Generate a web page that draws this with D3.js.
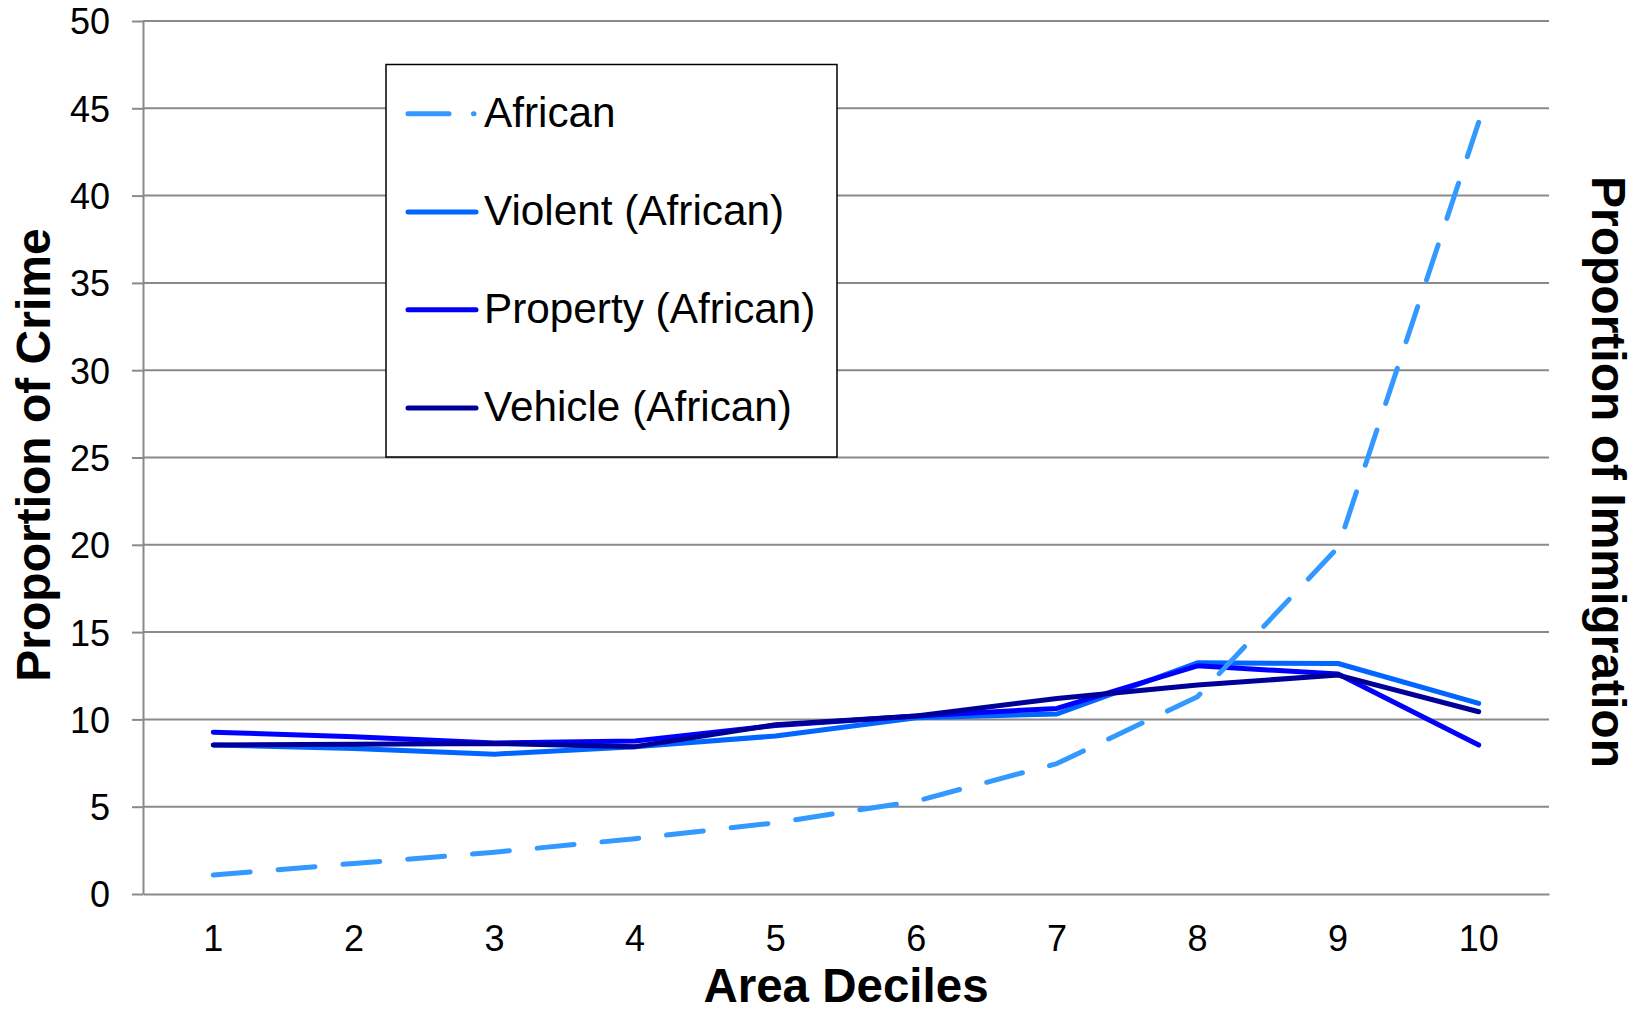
<!DOCTYPE html>
<html>
<head>
<meta charset="utf-8">
<script src="https://cdn.jsdelivr.net/npm/d3@7"></script>
<style>
  html, body { margin: 0; padding: 0; background: #ffffff; }
  svg { display: block; font-family: "Liberation Sans", Arial, sans-serif; }
</style>
</head>
<body>
<svg id="chart" width="1643" height="1013"></svg>
<script>
// ---- data ----
const categories = ["1", "2", "3", "4", "5", "6", "7", "8", "9", "10"];
const yTicks = [0, 5, 10, 15, 20, 25, 30, 35, 40, 45, 50];
const seriesNames = ["African", "Violent (African)", "Property (African)", "Vehicle (African)"];
const african  = [1.09, 1.75, 2.39, 3.17, 4.08, 5.32, 7.47, 11.3, 19.85, 44.2];
const violent  = [8.54, 8.33, 8.01, 8.44, 9.05, 10.1, 10.31, 13.24, 13.2, 10.92];
const property = [9.27, 9.0, 8.65, 8.76, 9.65, 10.2, 10.63, 13.07, 12.6, 8.53];
const vehicle  = [8.54, 8.58, 8.62, 8.44, 9.7, 10.2, 11.2, 11.97, 12.54, 10.44];
const colors = ["#3399ff", "#0066ff", "#0000ff", "#000099"];

(function () {
  // ---- layout ----
  const svg = d3.select("#chart");
  const plotLeft = 143, plotRight = 1549, plotTop = 21, plotBottom = 894;

  const x = d3.scaleBand().domain(categories).range([plotLeft, plotRight]).padding(0);
  const cx = c => x(c) + x.bandwidth() / 2;
  const y = d3.scaleLinear().domain([0, 50]).range([plotBottom, plotTop]);

  const grid = "#8a8a8a";

  // gridlines
  svg.append("g").selectAll("line").data(yTicks.filter(t => t > 0)).join("line")
    .attr("x1", plotLeft).attr("x2", plotRight)
    .attr("y1", d => y(d)).attr("y2", d => y(d))
    .attr("stroke", grid).attr("stroke-width", 2);

  // y axis
  const yAxis = svg.append("g").attr("transform", `translate(${plotLeft},0)`)
    .call(d3.axisLeft(y).tickValues(yTicks).tickSizeInner(11).tickSizeOuter(0).tickPadding(22));
  yAxis.select(".domain").attr("stroke", grid).attr("stroke-width", 2);
  yAxis.selectAll(".tick line").attr("stroke", grid).attr("stroke-width", 2);
  yAxis.selectAll(".tick text").attr("font-size", 36).attr("fill", "#000")
    .attr("font-family", "Liberation Sans, Arial, sans-serif").attr("dy", "0.36em");

  // x axis
  const xAxis = svg.append("g").attr("transform", `translate(0,${plotBottom})`)
    .call(d3.axisBottom(x).tickSize(0).tickPadding(31));
  xAxis.select(".domain").attr("stroke", grid).attr("stroke-width", 2);
  xAxis.selectAll(".tick text").attr("font-size", 36).attr("fill", "#000")
    .attr("font-family", "Liberation Sans, Arial, sans-serif");

  // axis titles
  svg.append("text").attr("transform", `translate(50,455) rotate(-90)`)
    .attr("text-anchor", "middle").attr("font-size", 48).attr("font-weight", "bold")
    .text("Proportion of Crime");
  svg.append("text").attr("transform", `translate(1592,472) rotate(90)`)
    .attr("text-anchor", "middle").attr("font-size", 48).attr("font-weight", "bold")
    .text("Proportion of Immigration");
  svg.append("text").attr("x", 846).attr("y", 1002)
    .attr("text-anchor", "middle").attr("font-size", 47.5).attr("font-weight", "bold")
    .text("Area Deciles");

  // lines
  const line = d3.line().x((d, i) => cx(categories[i])).y(d => y(d));
  const drawOrder = [
    { vals: violent, color: colors[1], dash: null },
    { vals: property, color: colors[2], dash: null },
    { vals: vehicle, color: colors[3], dash: null },
    { vals: african, color: colors[0], dash: "37,28" }
  ];
  drawOrder.forEach(s => {
    svg.append("path").datum(s.vals)
      .attr("d", line)
      .attr("fill", "none")
      .attr("stroke", s.color)
      .attr("stroke-width", 5)
      .attr("stroke-linejoin", "round")
      .attr("stroke-linecap", "round")
      .attr("stroke-dasharray", s.dash);
  });

  // legend
  const lg = svg.append("g");
  lg.append("rect").attr("x", 386).attr("y", 64.5).attr("width", 451).attr("height", 392.5)
    .attr("fill", "#fff").attr("stroke", "#000").attr("stroke-width", 1.5);
  const rowY = [126.7, 225, 322.7, 421];
  seriesNames.forEach((name, i) => {
    lg.append("line").attr("x1", 408).attr("x2", 476)
      .attr("y1", rowY[i] - 13).attr("y2", rowY[i] - 13)
      .attr("stroke", colors[i]).attr("stroke-width", 5)
      .attr("stroke-linecap", "round")
      .attr("stroke-dasharray", i === 0 ? "41,24.5,0.5,100" : null);
    lg.append("text").attr("x", 484).attr("y", rowY[i])
      .attr("font-size", 42.3).attr("fill", "#000").text(name);
  });
})();
</script>
</body>
</html>
